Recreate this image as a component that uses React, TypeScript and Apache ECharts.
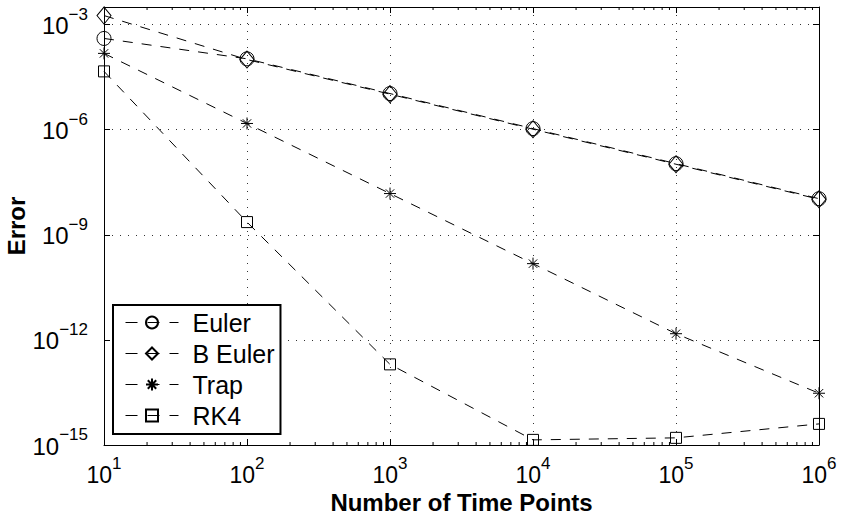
import React, { useEffect, useRef } from "react";
import * as echarts from "echarts";

// ---- data ----
const timePoints = [10, 100, 1000, 10000, 100000, 1000000];
const eulerError = [4.0e-4, 1.05e-4, 1.07e-5, 1.07e-6, 1.07e-7, 1.07e-8];
const bEulerError = [1.8e-3, 1.0e-4, 1.03e-5, 1.03e-6, 1.03e-7, 1.03e-8];
const trapError = [1.5e-4, 1.5e-6, 1.5e-8, 1.5e-10, 1.5e-12, 3.0e-14];
const rk4Error = [4.6e-5, 2.3e-9, 2.0e-13, 1.4e-15, 1.6e-15, 4.0e-15];
const seriesNames = ["Euler", "B Euler", "Trap", "RK4"];
const xMin = 10;
const xMax = 1000000;
const yMin = 1e-15;
const yMax = Math.pow(10, -2.5);
const xTitle = "Number of Time Points";
const yTitle = "Error";

const FONT = '"Liberation Sans", Arial, Helvetica, sans-serif';
const STAR = "path://M0,-1L0,1M-1,0L1,0M-0.7,-0.7L0.7,0.7M-0.7,0.7L0.7,-0.7";

function pairs(ys: number[]) {
  return timePoints.map((x, i) => [x, ys[i]]);
}

function minorTicks() {
  const out: number[][] = [];
  for (let k = 1; k < 6; k++) {
    for (let m = 2; m <= 9; m++) out.push([m * Math.pow(10, k), yMin]);
  }
  return out;
}

function powLabel(v: number) {
  const e = Math.round(Math.log10(v));
  const es = e < 0 ? "\u2212" + -e : String(e);
  return `{b|10}{s|${es}}`;
}

const richY = {
  b: { fontSize: 24, fontFamily: FONT, color: "#000", verticalAlign: "bottom" },
  s: { fontSize: 17, fontFamily: FONT, color: "#000", verticalAlign: "top", lineHeight: 32 },
};
const richX = {
  b: { fontSize: 23, fontFamily: FONT, color: "#000", verticalAlign: "bottom" },
  s: { fontSize: 17, fontFamily: FONT, color: "#000", verticalAlign: "top", lineHeight: 31 },
};

export default function App() {
  const ref = useRef<HTMLDivElement>(null);
  useEffect(() => {
    if (!ref.current) return;
    const chart = echarts.init(ref.current, null, { renderer: "svg" });
    const lineBase = {
      type: "line",
      xAxisIndex: 0,
      yAxisIndex: 0,
      clip: false,
      silent: true,
      emphasis: { disabled: true },
      lineStyle: { color: "#000", width: 1, type: [10, 9] },
      itemStyle: { color: "transparent", borderColor: "#000", borderWidth: 1 },
    };
    const option: any = {
      animation: false,
      backgroundColor: "#fff",
      grid: { left: 104, right: 22, top: 7, bottom: 70, containLabel: false, outerBoundsMode: "none" },
      legend: {
        data: seriesNames,
        orient: "vertical",
        left: 113,
        top: 305,
        padding: [5, 6, 6, 12],
        itemWidth: 53,
        itemHeight: 15,
        itemGap: 6,
        itemTextGap: 26,
        borderColor: "#000",
        borderWidth: 2,
        borderRadius: 0,
        backgroundColor: "#fff",
        selectedMode: false,
        lineStyle: { type: [12, 10], width: 1, color: "#000" },
        textStyle: { fontSize: 25, fontFamily: FONT, color: "#000", padding: [0, 0, 0, 9] },
      },
      xAxis: [
        {
          type: "log",
          logBase: 10,
          min: xMin,
          max: xMax,
          interval: 1,
          position: "bottom",
          name: xTitle,
          nameLocation: "middle",
          nameGap: 45,
          nameMoveOverlap: false,
          nameTextStyle: { fontSize: 24, fontWeight: "bold", fontFamily: FONT, color: "#000" },
          axisLine: { onZero: false, lineStyle: { color: "#000", width: 1 } },
          axisTick: { inside: true, length: 6, lineStyle: { color: "#000" } },
          axisLabel: { margin: 10, formatter: powLabel, rich: richX },
          splitLine: { show: true, lineStyle: { color: "#333", width: 1, type: [1, 7] } },
        },
        {
          type: "log",
          logBase: 10,
          min: xMin,
          max: xMax,
          interval: 1,
          position: "top",
          axisLine: { onZero: false, lineStyle: { color: "#000", width: 1 } },
          axisTick: { inside: true, length: 6, lineStyle: { color: "#000" } },
          axisLabel: { show: false },
          splitLine: { show: false },
        },
      ],
      yAxis: [
        {
          type: "log",
          logBase: 10,
          min: yMin,
          max: yMax,
          interval: 3,
          position: "left",
          name: yTitle,
          nameLocation: "middle",
          nameRotate: 90,
          nameGap: 76,
          nameMoveOverlap: false,
          nameTextStyle: { fontSize: 24, fontWeight: "bold", fontFamily: FONT, color: "#000" },
          axisLine: { onZero: false, lineStyle: { color: "#000", width: 1 } },
          axisTick: { inside: true, length: 6, lineStyle: { color: "#000" } },
          axisLabel: {
            margin: 16,
            showMaxLabel: false,
            formatter: powLabel,
            rich: richY,
            padding: [0, 0, 6, 0],
          },
          splitLine: { show: true, lineStyle: { color: "#333", width: 1, type: [1, 7] } },
        },
        {
          type: "log",
          logBase: 10,
          min: yMin,
          max: yMax,
          interval: 3,
          position: "right",
          axisLine: { onZero: false, lineStyle: { color: "#000", width: 1 } },
          axisTick: { inside: true, length: 6, lineStyle: { color: "#000" } },
          axisLabel: { show: false },
          splitLine: { show: false },
        },
      ],
      series: [
        {
          type: "custom",
          name: "minorTicks",
          xAxisIndex: 0,
          yAxisIndex: 0,
          silent: true,
          clip: false,
          data: minorTicks(),
          renderItem: (params: any, api: any) => {
            const x = api.value(0);
            const b = api.coord([x, yMin]);
            const t = api.coord([x, yMax]);
            return {
              type: "group",
              children: [
                { type: "line", shape: { x1: b[0], y1: b[1], x2: b[0], y2: b[1] - 3 }, style: { stroke: "#000", lineWidth: 1 } },
                { type: "line", shape: { x1: t[0], y1: t[1], x2: t[0], y2: t[1] + 3 }, style: { stroke: "#000", lineWidth: 1 } },
              ],
            };
          },
        },
        { ...lineBase, name: "Euler", symbol: "circle", symbolSize: 14, data: pairs(eulerError) },
        { ...lineBase, name: "B Euler", symbol: "diamond", symbolSize: [14, 17], data: pairs(bEulerError) },
        { ...lineBase, name: "Trap", symbol: STAR, symbolSize: 12, data: pairs(trapError) },
        { ...lineBase, name: "RK4", symbol: "rect", symbolSize: 11, data: pairs(rk4Error) },
      ],
    };
    chart.setOption(option);
    return () => chart.dispose();
  }, []);
  return (
    <div
      ref={ref}
      style={{ position: "fixed", left: 0, top: 0, width: 841, height: 515, background: "#fff" }}
    />
  );
}
